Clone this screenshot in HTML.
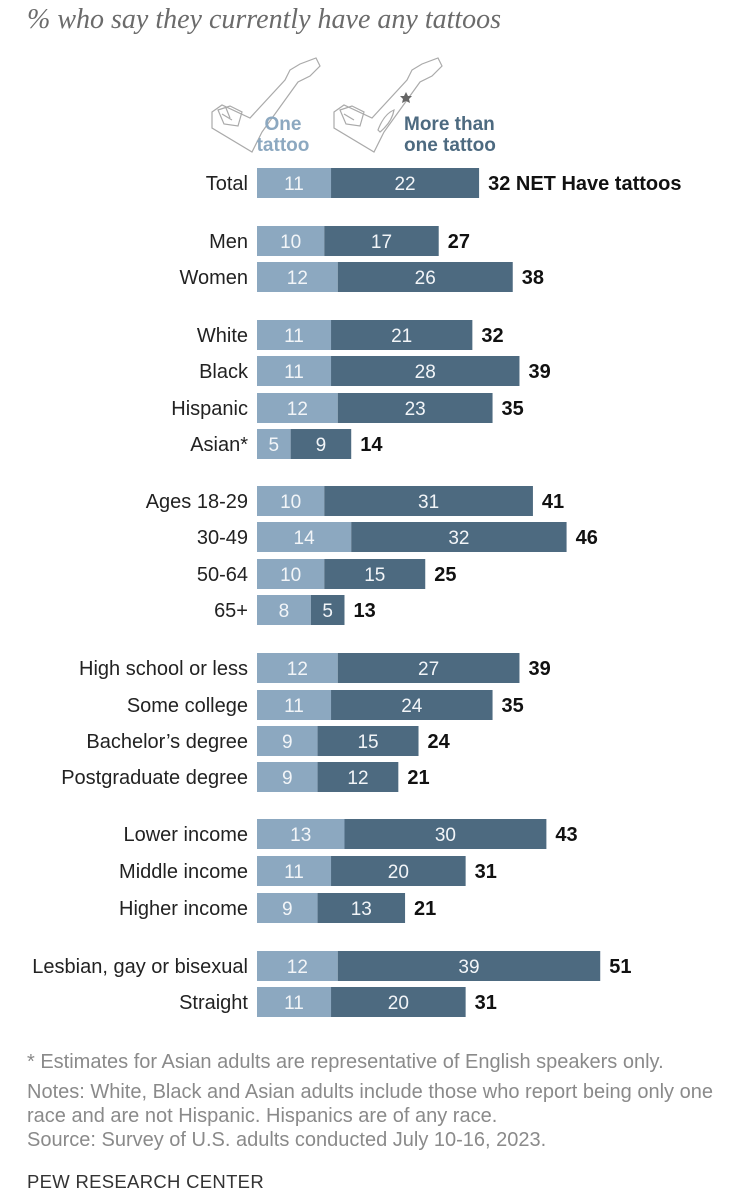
<!DOCTYPE html>
<html><head><meta charset="utf-8"><style>
body{margin:0;width:756px;height:1200px;background:#fff;font-family:"Liberation Sans",sans-serif;overflow:hidden;position:relative}
.t{position:absolute}
</style></head><body>
<div class="t" style="left:27px;top:4px;font-family:'Liberation Serif',serif;font-style:italic;font-size:28px;color:#6b6b6b">% who say they currently have any tattoos</div>
<svg width="756" height="160" style="position:absolute;left:0;top:40px" viewBox="0 40 756 160">
<g fill="none" stroke="#aaa" stroke-width="1.2">
<path d="M212 112 L222 105 L250 118 L285 80 L290 70 L300 64 L316 58 L320 66 L310 76 L298 82 L262 132 L252 152 L212 128 Z"/>
<path d="M218 110 l12 -4 l12 6 l-4 14 l-14 -2 z M222 114 l10 6 M226 108 l4 10"/>
<path d="M334 112 L344 105 L372 118 L407 80 L412 70 L422 64 L438 58 L442 66 L432 76 L420 82 L384 132 L374 152 L334 128 Z"/>
<path d="M340 110 l12 -4 l12 6 l-4 14 l-14 -2 z M344 114 l10 6"/>
<path d="M378 130 q6 -16 16 -20 q-2 12 -14 22 z"/>
</g>
<path d="M406 92 l2 4 4 0 -3 3 1 4 -4 -2 -4 2 1 -4 -3 -3 4 0z" fill="#666"/>
<text x="283" y="130" font-size="19" font-weight="bold" fill="#8ca8c0" text-anchor="middle" font-family="Liberation Sans">One</text>
<text x="283" y="151" font-size="19" font-weight="bold" fill="#8ca8c0" text-anchor="middle" font-family="Liberation Sans">tattoo</text>
<text x="404" y="130" font-size="19" font-weight="bold" fill="#4d6a80" font-family="Liberation Sans">More than</text>
<text x="404" y="151" font-size="19" font-weight="bold" fill="#4d6a80" font-family="Liberation Sans">one tattoo</text>
</svg>
<svg id="chart" width="756" height="1040" style="position:absolute;left:0;top:0"></svg>
<div class="t" style="left:27px;top:1050px;font-size:20px;line-height:24px;color:#8a8a8a;width:729px;white-space:nowrap"><div style="margin-bottom:6px">* Estimates for Asian adults are representative of English speakers only.</div>Notes: White, Black and Asian adults include those who report being only one<br>race and are not Hispanic. Hispanics are of any race.<br>Source: Survey of U.S. adults conducted July 10-16, 2023.</div>
<div class="t" style="left:27px;top:1171px;font-size:18.5px;color:#333;letter-spacing:0.3px">PEW RESEARCH CENTER</div>
<script>
const categories=["Total","Men","Women","White","Black","Hispanic","Asian*","Ages 18-29","30-49","50-64","65+","High school or less","Some college","Bachelor’s degree","Postgraduate degree","Lower income","Middle income","Higher income","Lesbian, gay or bisexual","Straight"];
const oneTattoo=[11,10,12,11,11,12,5,10,14,10,8,12,11,9,9,13,11,9,12,11];
const moreTattoos=[22,17,26,21,28,23,9,31,32,15,5,27,24,15,12,30,20,13,39,20];
const netTotal=[32,27,38,32,39,35,14,41,46,25,13,39,35,24,21,43,31,21,51,31];
const rowY=[183,241,277,335,371,408,444,501,537,574,610,668,705,741,777,834,871,908,966,1002];
const svg=document.getElementById('chart');
const NS='http://www.w3.org/2000/svg';
const x0=257,k=6.73,bh=30;
const xs=v=>x0+v*k;
function mk(t,a){const e=document.createElementNS(NS,t);for(const q in a)e.setAttribute(q,a[q]);svg.appendChild(e);return e;}
categories.forEach((c,i)=>{
 const y=rowY[i];
 const l=mk('text',{x:248,y:y+7,'text-anchor':'end','font-size':20,fill:'#222','font-family':'Liberation Sans'});l.textContent=c;
 
 
 const r1=mk('rect',{x:xs(0),y:y-bh/2,width:xs(oneTattoo[i])-xs(0),height:bh,fill:'#8ca8c0'});
 
 
 const r2=mk('rect',{x:xs(oneTattoo[i]),y:y-bh/2,width:xs(oneTattoo[i]+moreTattoos[i])-xs(oneTattoo[i]),height:bh,fill:'#4d6a80'});
 
 
 const t1=mk('text',{x:(xs(0)+xs(oneTattoo[i]))/2,y:y+7,'text-anchor':'middle','font-size':19,fill:'#f2f5f8','font-family':'Liberation Sans'});t1.textContent=oneTattoo[i];
 
 
 const t2=mk('text',{x:(xs(oneTattoo[i])+xs(oneTattoo[i]+moreTattoos[i]))/2,y:y+7,'text-anchor':'middle','font-size':19,fill:'#f2f5f8','font-family':'Liberation Sans'});t2.textContent=moreTattoos[i];
 
 
 const t3=mk('text',{x:xs(oneTattoo[i]+moreTattoos[i])+9,y:y+7,'font-size':20,'font-weight':'bold',fill:'#111','font-family':'Liberation Sans'});t3.textContent=netTotal[i]+(i===0?' NET Have tattoos':'');
 
 
});
</script>
</body></html>
